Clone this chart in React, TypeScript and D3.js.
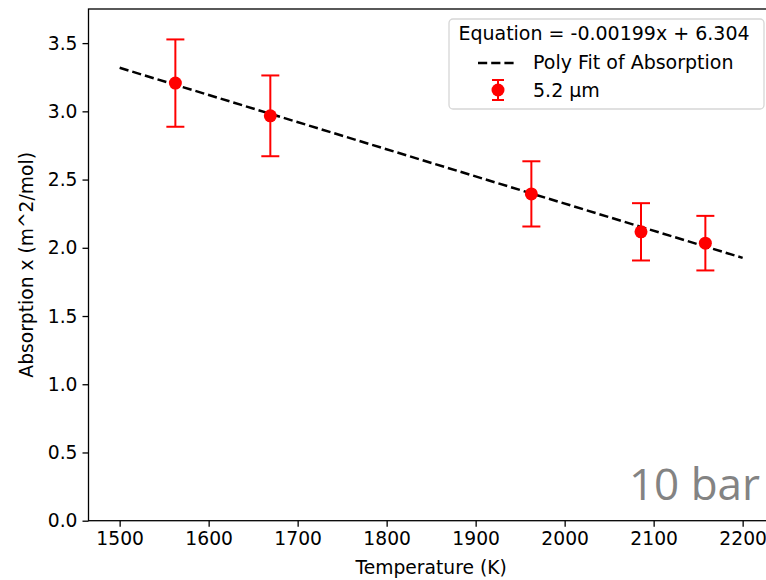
import { useEffect, useRef } from 'react';
import * as d3 from 'd3';

const temperatures = [1562.6, 1669.3, 1962.6, 2085.8, 2158.1];
const absorption = [3.207, 2.967, 2.395, 2.117, 2.034];
const absorptionErr = [0.32, 0.296, 0.239, 0.21, 0.2];

const fitSlope = -0.00199;
const fitIntercept = 6.304;
const fitRange = [1500, 2200];

const xTicks = [1500, 1600, 1700, 1800, 1900, 2000, 2100, 2200];
const yTicks = [0, 0.5, 1, 1.5, 2, 2.5, 3, 3.5];

const legendTitle = 'Equation = -0.00199x + 6.304';
const fitLabel = 'Poly Fit of Absorption';
const seriesLabel = '5.2 µm';
const noteText = '10 bar';

const FONT = '"DejaVu Sans", sans-serif';
const FS = 18.7;

export default function App() {
  const ref = useRef<SVGSVGElement>(null);

  useEffect(() => {
    const W = 766;
    const H = 580;
    const left = 88.5;
    const right = 773.8;
    const top = 9;
    const bottom = 520.7;

    const svg = d3.select(ref.current).attr('width', W).attr('height', H);
    svg.selectAll('*').remove();

    const x = d3.scaleLinear().domain([1465, 2235]).range([left, right]);
    const y = d3.scaleLinear().domain([0, 3.75]).range([bottom, top]);

    svg.append('rect').attr('width', W).attr('height', H).attr('fill', '#fff');

    // fit line
    const fit = fitRange.map((t) => ({ t, v: fitSlope * t + fitIntercept }));
    svg
      .append('path')
      .datum(fit)
      .attr(
        'd',
        d3
          .line<{ t: number; v: number }>()
          .x((d) => x(d.t))
          .y((d) => y(d.v))
      )
      .attr('fill', 'none')
      .attr('stroke', '#000')
      .attr('stroke-width', 2.5)
      .attr('stroke-dasharray', '9.2,4');

    // error bars
    const pts = temperatures.map((t, i) => ({ t, v: absorption[i], e: absorptionErr[i] }));
    const eb = svg.append('g').attr('stroke', '#ff0000').attr('stroke-width', 2);
    pts.forEach((d) => {
      const cx = x(d.t);
      eb.append('line').attr('x1', cx).attr('x2', cx).attr('y1', y(d.v - d.e)).attr('y2', y(d.v + d.e));
      eb.append('line').attr('x1', cx - 9).attr('x2', cx + 9).attr('y1', y(d.v - d.e)).attr('y2', y(d.v - d.e));
      eb.append('line').attr('x1', cx - 9).attr('x2', cx + 9).attr('y1', y(d.v + d.e)).attr('y2', y(d.v + d.e));
    });
    svg
      .append('g')
      .selectAll('circle')
      .data(pts)
      .join('circle')
      .attr('cx', (d) => x(d.t))
      .attr('cy', (d) => y(d.v))
      .attr('r', 6.5)
      .attr('fill', '#ff0000');

    // axes
    const xAxis = svg
      .append('g')
      .attr('transform', `translate(0,${bottom})`)
      .call(d3.axisBottom(x).tickValues(xTicks).tickSize(6).tickPadding(5).tickFormat(d3.format('d')));
    const yAxis = svg
      .append('g')
      .attr('transform', `translate(${left},0)`)
      .call(d3.axisLeft(y).tickValues(yTicks).tickSize(6).tickPadding(5).tickFormat(d3.format('.1f')));
    [xAxis, yAxis].forEach((a) => {
      a.select('.domain').remove();
      a.selectAll('line').attr('stroke', '#000').attr('stroke-width', 1.3);
      a.selectAll('text').attr('font-family', FONT).attr('font-size', FS).attr('fill', '#000');
    });

    // spines
    svg
      .append('rect')
      .attr('x', left)
      .attr('y', top)
      .attr('width', right - left)
      .attr('height', bottom - top)
      .attr('fill', 'none')
      .attr('stroke', '#000')
      .attr('stroke-width', 1.3);

    // axis labels
    svg
      .append('text')
      .attr('x', (left + right) / 2)
      .attr('y', 574)
      .attr('text-anchor', 'middle')
      .attr('font-family', FONT)
      .attr('font-size', FS)
      .text('Temperature (K)');
    svg
      .append('text')
      .attr('transform', `translate(33,${(top + bottom) / 2}) rotate(-90)`)
      .attr('text-anchor', 'middle')
      .attr('font-family', FONT)
      .attr('font-size', FS)
      .text('Absorption x (m^2/mol)');

    // note
    svg
      .append('text')
      .attr('x', 760)
      .attr('y', 500)
      .attr('text-anchor', 'end')
      .attr('font-family', '"Open Sans", sans-serif')
      .attr('font-size', 44)
      .attr('fill', '#838383')
      .text(noteText);

    // legend
    const lg = svg.append('g');
    lg.append('rect')
      .attr('x', 449)
      .attr('y', 19)
      .attr('width', 315)
      .attr('height', 90)
      .attr('rx', 4)
      .attr('fill', '#fff')
      .attr('fill-opacity', 0.8)
      .attr('stroke', '#d6d6d6')
      .attr('stroke-width', 1.3);
    lg.append('text')
      .attr('x', 604)
      .attr('y', 40)
      .attr('text-anchor', 'middle')
      .attr('font-family', FONT)
      .attr('font-size', 19)
      .text(legendTitle);
    lg.append('line')
      .attr('x1', 478)
      .attr('x2', 517)
      .attr('y1', 63)
      .attr('y2', 63)
      .attr('stroke', '#000')
      .attr('stroke-width', 2.5)
      .attr('stroke-dasharray', '9.2,4');
    lg.append('text')
      .attr('x', 533)
      .attr('y', 69)
      .attr('font-family', FONT)
      .attr('font-size', 19)
      .text(fitLabel);
    const lh = lg.append('g').attr('stroke', '#ff0000').attr('stroke-width', 2);
    lh.append('line').attr('x1', 498).attr('x2', 498).attr('y1', 80).attr('y2', 100);
    lh.append('line').attr('x1', 492).attr('x2', 504).attr('y1', 80).attr('y2', 80);
    lh.append('line').attr('x1', 492).attr('x2', 504).attr('y1', 100).attr('y2', 100);
    lg.append('circle').attr('cx', 498).attr('cy', 90).attr('r', 6.5).attr('fill', '#ff0000');
    lg.append('text')
      .attr('x', 533)
      .attr('y', 97)
      .attr('font-family', FONT)
      .attr('font-size', 19)
      .text(seriesLabel);
  }, []);

  return <svg ref={ref} style={{ position: 'fixed', left: 0, top: 0, display: 'block' }} />;
}
